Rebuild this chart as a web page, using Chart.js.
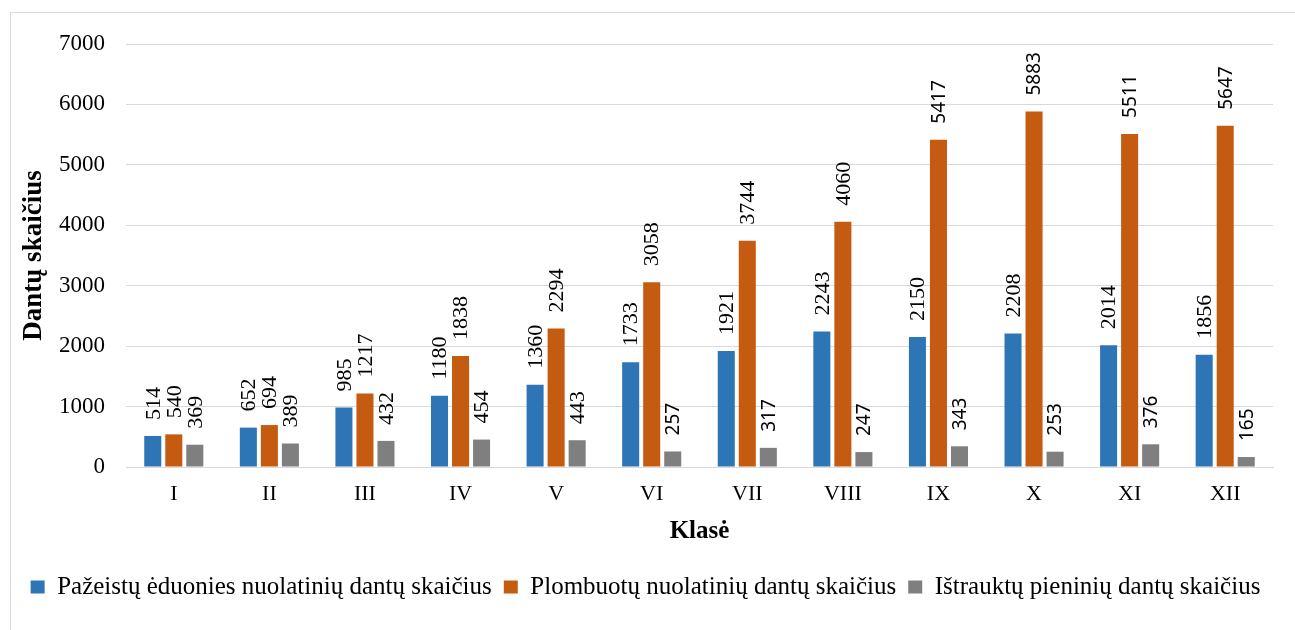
<!DOCTYPE html>
<html>
<head>
<meta charset="utf-8">
<script src="https://cdn.jsdelivr.net/npm/chart.js@4.4.0/dist/chart.umd.min.js"></script>
<style>
    html, body { margin: 0; padding: 0; background: #fff; }
    #wrap { position: relative; width: 1295px; height: 630px; }
</style>
</head>
<body>
<div id="wrap"><canvas id="teethChart" width="1295" height="630"></canvas></div>
<script>
// Chart data
const classes = ['I', 'II', 'III', 'IV', 'V', 'VI', 'VII', 'VIII', 'IX', 'X', 'XI', 'XII'];
const decayedPermanent = [514, 652, 985, 1180, 1360, 1733, 1921, 2243, 2150, 2208, 2014, 1856];
const filledPermanent = [540, 694, 1217, 1838, 2294, 3058, 3744, 4060, 5417, 5883, 5511, 5647];
const extractedMilk = [369, 389, 432, 454, 443, 257, 317, 247, 343, 253, 376, 165];
const seriesNames = [
    'Pažeistų ėduonies nuolatinių dantų skaičius',
    'Plombuotų nuolatinių dantų skaičius',
    'Ištrauktų pieninių dantų skaičius'
];
const yTicks = [0, 1000, 2000, 3000, 4000, 5000, 6000, 7000];

const serif = '"Liberation Serif", "Times New Roman", serif';
const sans = '"Noto Sans", "Open Sans", sans-serif';

/**
 * Outer light frame around the chart
 */
const framePlugin = {
    id: 'frame',
    beforeDraw(chart) {
        const ctx = chart.ctx;
        ctx.save();
        ctx.strokeStyle = '#D9D9D9';
        ctx.lineWidth = 1;
        ctx.strokeRect(10.5, 12.5, 1300, 640);
        ctx.restore();
    }
};

/**
 * Rotated value labels above each bar
 */
const valueLabels = {
    id: 'valueLabels',
    afterDatasetsDraw(chart, args, opts) {
        const ctx = chart.ctx;
        chart.data.datasets.forEach((ds, di) => {
            const meta = chart.getDatasetMeta(di);
            const sansFrom = opts.sansFrom[di];
            meta.data.forEach((bar, i) => {
                const useSans = i >= sansFrom;
                ctx.save();
                ctx.translate(bar.x, bar.y - opts.gap);
                ctx.rotate(-Math.PI / 2);
                ctx.font = useSans ? '19px ' + sans : '22px ' + serif;
                ctx.fillStyle = '#000';
                ctx.textAlign = 'left';
                ctx.textBaseline = 'middle';
                ctx.fillText(String(ds.data[i]), 0, 1);
                ctx.restore();
            });
        });
    }
};

new Chart(document.getElementById('teethChart'), {
    type: 'bar',
    data: {
        labels: classes,
        datasets: [
            { label: seriesNames[0], data: decayedPermanent, backgroundColor: '#2E75B6' },
            { label: seriesNames[1], data: filledPermanent, backgroundColor: '#C55A11' },
            { label: seriesNames[2], data: extractedMilk, backgroundColor: '#7F7F7F' }
        ]
    },
    options: {
        responsive: false,
        animation: false,
        datasets: {
            bar: { categoryPercentage: 0.66, barPercentage: 0.81 }
        },
        layout: {
            padding: { top: 44, right: 22, left: 18, bottom: 20.5 }
        },
        plugins: {
            tooltip: { enabled: false },
            legend: {
                position: 'bottom',
                labels: {
                    boxWidth: 14,
                    boxHeight: 13,
                    padding: 12,
                    color: '#000',
                    font: { family: serif, size: 25 }
                }
            },
            valueLabels: {
                gap: 16,
                sansFrom: [99, 8, 5]
            }
        },
        scales: {
            x: {
                grid: { display: false, drawTicks: false },
                border: { color: '#D9D9D9', width: 1 },
                ticks: {
                    color: '#000',
                    padding: 14,
                    font: { family: serif, size: 22 }
                },
                title: {
                    display: true,
                    text: 'Klasė',
                    color: '#000',
                    padding: { top: 0, bottom: 15.5 },
                    font: { family: serif, size: 25, weight: 'bold' }
                },
                afterFit(scale) { scale.height = 95.5; }
            },
            y: {
                min: 0,
                max: 7000,
                afterBuildTicks(scale) {
                    scale.ticks = yTicks.map(v => ({ value: v }));
                },
                grid: { color: '#D9D9D9', drawTicks: false },
                border: { display: false },
                ticks: {
                    color: '#000',
                    padding: 21,
                    font: { family: serif, size: 23 },
                    callback: value => String(value)
                },
                title: {
                    display: true,
                    text: 'Dantų skaičius',
                    color: '#000',
                    padding: { top: 0, bottom: 0 },
                    font: { family: serif, size: 27, weight: 'bold' }
                },
                afterFit(scale) { scale.width = 108; }
            }
        }
    },
    plugins: [framePlugin, valueLabels]
});
</script>
</body>
</html>
